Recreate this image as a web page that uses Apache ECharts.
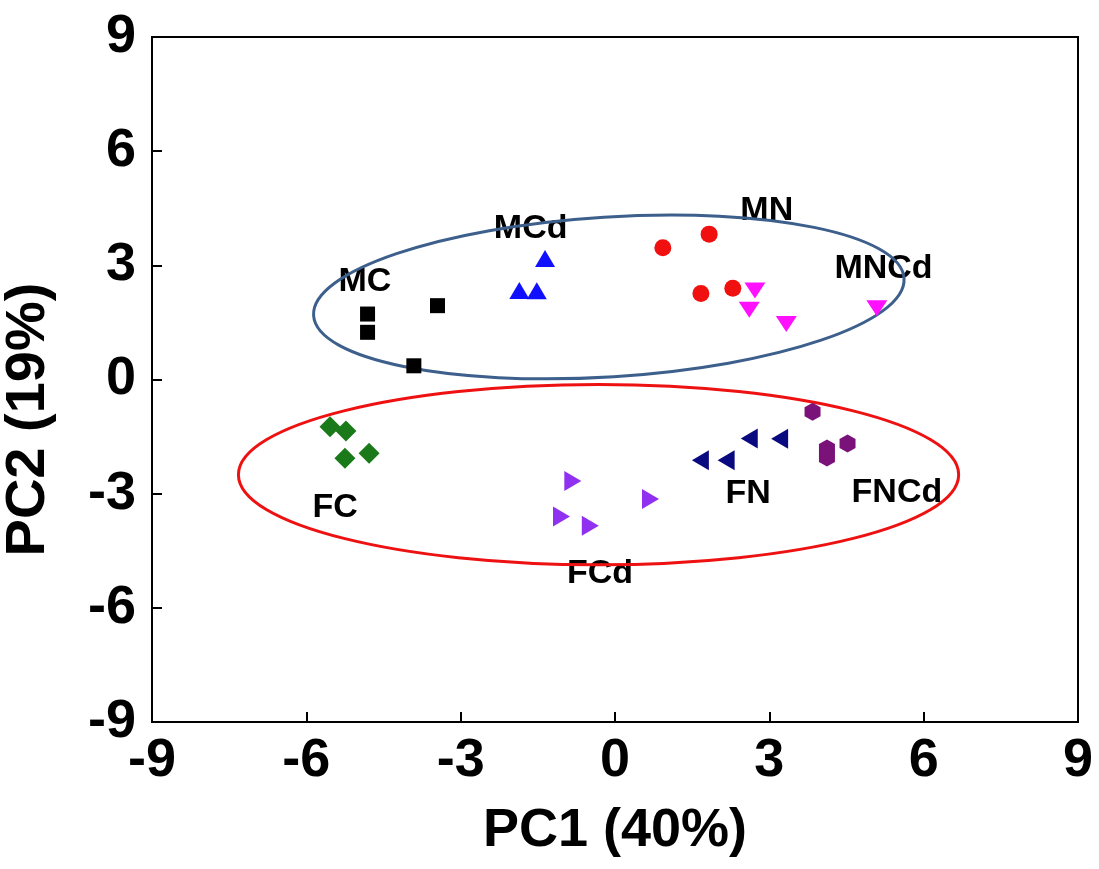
<!DOCTYPE html>
<html>
<head>
<meta charset="utf-8">
<script src="https://cdn.jsdelivr.net/npm/echarts@6/dist/echarts.min.js"></script>
<style>
html,body{margin:0;padding:0;background:#fff}
#chart{width:1099px;height:869px}
</style>
</head>
<body>
<div id="chart"></div>
<script>
// PCA scores, [PC1, PC2]
var MC   = [[-4.81, 1.72], [-4.81, 1.24], [-3.45, 1.94], [-3.91, 0.36]];
var MCd  = [[-1.36, 3.18], [-1.86, 2.34], [-1.52, 2.33]];
var MN   = [[0.93, 3.46], [1.83, 3.82], [1.67, 2.26], [2.29, 2.40]];
var MNCd = [[2.72, 2.34], [2.61, 1.83], [3.33, 1.46], [5.09, 1.87]];
var FC   = [[-5.54, -1.24], [-5.23, -1.35], [-5.25, -2.07], [-4.78, -1.94]];
var FCd  = [[-0.82, -2.67], [-1.04, -3.60], [-0.48, -3.84], [0.69, -3.14]];
var FN   = [[2.61, -1.55], [3.20, -1.56], [1.66, -2.12], [2.16, -2.12]];
var FNCd = [[3.84, -0.85], [4.12, -1.81], [4.12, -2.05], [4.52, -1.68]];

// group labels
var labelNames = ['MC', 'MCd', 'MN', 'MNCd', 'FC', 'FCd', 'FN', 'FNCd'];
var labelPos = [[-4.86, 2.57], [-1.64, 3.97], [2.95, 4.45], [5.22, 2.91],
                [-5.44, -3.37], [-0.29, -5.09], [2.59, -3.01], [5.48, -2.97]];

// ellipses: [cx, cy, rx, ry, tilt deg]
var ellipseM = [-0.12, 2.17, 5.75, 2.10, 3.6];
var ellipseF = [-0.32, -2.50, 7.00, 2.37, 0];

var font = "'Liberation Sans', Arial, sans-serif";
var hexagon = 'path://M0,-1 L0.866,-0.5 L0.866,0.5 L0,1 L-0.866,0.5 L-0.866,-0.5 Z';

var chart = echarts.init(document.getElementById('chart'));

function pts(name, data, symbol, size, color, rot){
	return {
		name: name, type: 'scatter', data: data,
		symbol: symbol, symbolSize: size, symbolRotate: rot || 0,
		itemStyle: {color: color, opacity: 1},
		z: 5
	}
}

function ellipse(p, color){
	return {
		type: 'custom', data: [p], z: 4, silent: true,
		renderItem: function(params, api){
			var c = api.coord([api.value(0), api.value(1)]);
			var s = api.size([api.value(2), api.value(3)]);
			return {
				type: 'ellipse',
				x: c[0], y: c[1],
				rotation: api.value(4) * Math.PI / 180,
				shape: {cx: 0, cy: 0, rx: s[0], ry: s[1]},
				style: {fill: 'none', stroke: color, lineWidth: 3}
			}
		}
	}
}

var labelData = labelNames.map(function(n, i){ return {name: n, value: labelPos[i]} });

chart.setOption({
	animation: false,
	backgroundColor: '#fff',
	grid: {left: 152, right: 21, top: 37, bottom: 147, show: true, borderColor: '#000', borderWidth: 2,
		containLabel: false, outerBoundsMode: 'none'},
	xAxis: {
		type: 'value', min: -9, max: 9, interval: 3,
		name: 'PC1 (40%)', nameLocation: 'middle', nameGap: 82,
		nameTextStyle: {fontFamily: font, fontWeight: 'bold', fontSize: 54, color: '#000'},
		axisLine: {onZero: false, lineStyle: {color: '#000', width: 2}},
		axisTick: {inside: true, length: 10, lineStyle: {color: '#000', width: 2}},
		axisLabel: {margin: 12, fontFamily: font, fontWeight: 'bold', fontSize: 54, color: '#000'},
		splitLine: {show: false}
	},
	yAxis: {
		type: 'value', min: -9, max: 9, interval: 3,
		name: 'PC2 (19%)', nameLocation: 'middle', nameGap: 95, nameRotate: 90,
		nameTextStyle: {fontFamily: font, fontWeight: 'bold', fontSize: 56, color: '#000', padding: [0, 80, 0, 0]},
		axisLine: {onZero: false, lineStyle: {color: '#000', width: 2}},
		axisTick: {inside: true, length: 10, lineStyle: {color: '#000', width: 2}},
		axisLabel: {margin: 16, fontFamily: font, fontWeight: 'bold', fontSize: 54, color: '#000'},
		splitLine: {show: false}
	},
	series: [
		{
			type: 'scatter', data: labelData, symbolSize: 0, z: 3, silent: true,
			itemStyle: {opacity: 1},
			label: {show: true, position: 'inside', formatter: '{b}',
				fontFamily: font, fontWeight: 'bold', fontSize: 34, color: '#000', opacity: 1}
		},
		ellipse(ellipseM, '#3d5f8c'),
		ellipse(ellipseF, '#ee1111'),
		pts('MC', MC, 'rect', 15, '#000000'),
		pts('MCd', MCd, 'triangle', [20, 17], '#1010ff'),
		pts('MN', MN, 'circle', 17, '#f01010'),
		pts('MNCd', MNCd, 'triangle', [21, 16], '#ff10ff', 180),
		pts('FC', FC, 'diamond', 21, '#1a7a1a'),
		pts('FCd', FCd, 'triangle', [20, 17], '#9030f0', -90),
		pts('FN', FN, 'triangle', [20, 17], '#0a0a80', 90),
		pts('FNCd', FNCd, hexagon, [16, 18], '#7a127a')
	]
});
</script>
</body>
</html>
